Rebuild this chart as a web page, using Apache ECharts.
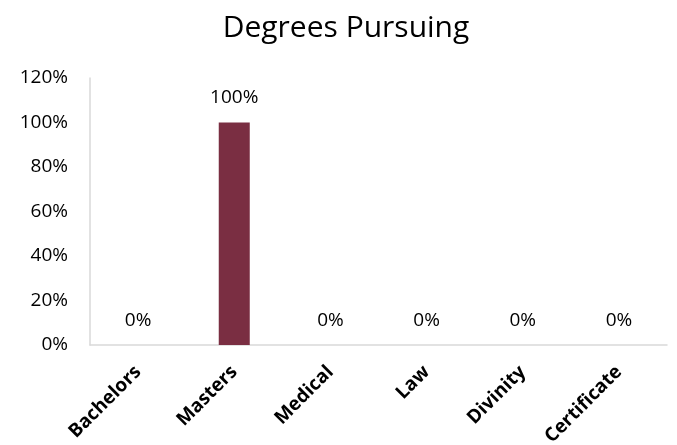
<!DOCTYPE html>
<html><head><meta charset="utf-8">
<script src="https://cdn.jsdelivr.net/npm/echarts@6/dist/echarts.min.js"></script>
<style>html,body{margin:0;padding:0;background:#fff}#c{width:677px;height:445px}</style>
</head><body><div id="c"></div>
<script>
const categories = ["Bachelors", "Masters", "Medical", "Law", "Divinity", "Certificate"];
const values = [0, 100, 0, 0, 0, 0];
const yTicks = [0, 20, 40, 60, 80, 100, 120];
const title = "Degrees Pursuing";

const F = 'Open Sans';
const chart = echarts.init(document.getElementById('c'));
chart.setOption({
  animation: false,
  textStyle: { fontFamily: F },
  title: { text: title, left: 346, top: 8, textAlign: 'center', padding: [5, 0, 5, 0],
    textStyle: { fontFamily: F, fontSize: 30, fontWeight: 'normal', color: '#000' } },
  grid: { left: 90, right: 10, top: 78, bottom: 100, outerBoundsMode: 'none', containLabel: false },
  xAxis: { type: 'category', data: categories,
    axisLine: { lineStyle: { color: '#d9d9d9', width: 1.5 } },
    axisTick: { show: false },
    axisLabel: { rotate: 45, margin: 24, fontSize: 19, fontWeight: 'bold', color: '#000', fontFamily: F } },
  yAxis: { type: 'value', min: yTicks[0], max: yTicks[yTicks.length-1], interval: 20,
    axisLine: { show: true, lineStyle: { color: '#d9d9d9', width: 1.5 } },
    axisTick: { show: false }, splitLine: { show: false },
    axisLabel: { formatter: v => v + '%', fontSize: 19, color: '#000', margin: 22, fontFamily: F } },
  series: [{ type: 'bar', data: values, barWidth: 31,
    itemStyle: { color: '#7a2e42' },
    label: { show: true, position: 'top', distance: 15, formatter: p => p.value + '%',
      fontSize: 19, color: '#000', fontFamily: F } }]
});
</script></body></html>
